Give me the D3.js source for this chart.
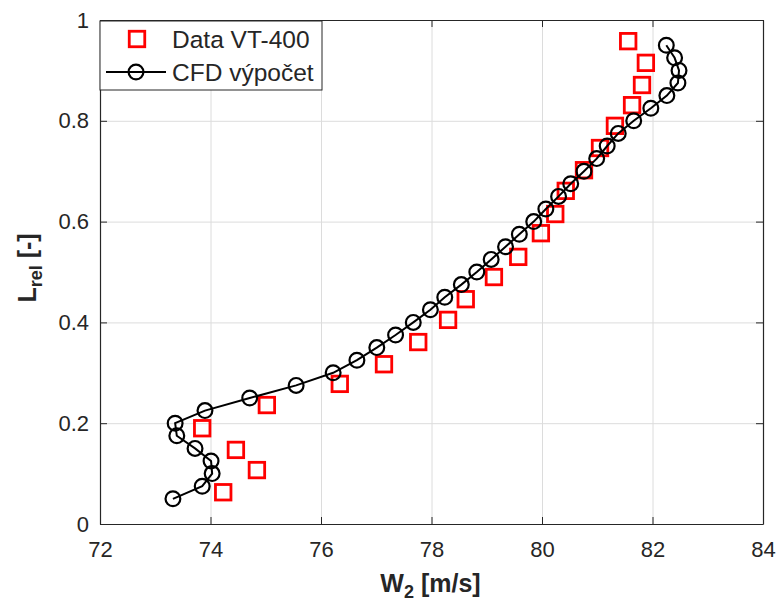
<!DOCTYPE html>
<html>
<head>
<meta charset="utf-8">
<script src="https://cdn.jsdelivr.net/npm/d3@7"></script>
<style>
  html, body { margin: 0; padding: 0; background: #fff; }
  svg { display: block; font-family: "Liberation Sans", Arial, Helvetica, sans-serif; }
</style>
</head>
<body>
<svg id="chart" width="780" height="608"></svg>
<script>
// Measured velocity profile (VT-400) and CFD result
const dataL = [0.063, 0.107, 0.147, 0.190, 0.236, 0.278, 0.317, 0.361, 0.405, 0.446, 0.490,
               0.530, 0.577, 0.615, 0.661, 0.702, 0.746, 0.790, 0.831, 0.871, 0.915, 0.958];
const dataW = [74.23, 74.84, 74.46, 73.85, 75.02, 76.34, 77.14, 77.76, 78.30, 78.62, 79.13,
               79.57, 79.98, 80.24, 80.43, 80.76, 81.05, 81.32, 81.63, 81.81, 81.88, 81.56];

const cfdL = [0.050, 0.075, 0.100, 0.125, 0.150, 0.175, 0.200, 0.225, 0.250, 0.275, 0.300,
              0.325, 0.350, 0.375, 0.400, 0.425, 0.450, 0.475, 0.500, 0.525, 0.550, 0.575,
              0.600, 0.625, 0.650, 0.675, 0.700, 0.725, 0.750, 0.775, 0.800, 0.825, 0.850,
              0.875, 0.900, 0.925, 0.950];
const cfdW = [73.32, 73.85, 74.03, 74.01, 73.72, 73.39, 73.36, 73.90, 74.71, 75.55, 76.22,
              76.65, 77.01, 77.35, 77.67, 77.98, 78.24, 78.54, 78.82, 79.08, 79.34, 79.59,
              79.85, 80.07, 80.30, 80.52, 80.76, 80.99, 81.18, 81.38, 81.66, 81.97, 82.26,
              82.46, 82.48, 82.40, 82.25];

const xTicks = [72, 74, 76, 78, 80, 82, 84];
const yTicks = [0, 0.2, 0.4, 0.6, 0.8, 1];
const legendLabels = ["Data VT-400", "CFD výpočet"];

const svg = d3.select("#chart");
const margin = { left: 100, top: 20, right: 17, bottom: 84 };
const W = 780 - margin.left - margin.right;
const H = 608 - margin.top - margin.bottom;
const axisColor = "#262626";

const x = d3.scaleLinear().domain([72, 84]).range([0, W]);
const y = d3.scaleLinear().domain([0, 1]).range([H, 0]);

const g = svg.append("g").attr("transform", `translate(${margin.left},${margin.top})`);

// grid
const gridX = g.append("g").attr("transform", `translate(0,${H})`)
  .call(d3.axisBottom(x).tickValues(xTicks).tickSize(-H).tickFormat(""));
const gridY = g.append("g")
  .call(d3.axisLeft(y).tickValues(yTicks).tickSize(-W).tickFormat(""));
[gridX, gridY].forEach(s => {
  s.select(".domain").remove();
  s.selectAll("line").attr("stroke", "#dcdcdc").attr("stroke-width", 1);
});

// axes with inward ticks on all four sides
const fmtY = d => d === 0 || d === 1 ? String(d) : d3.format(".1f")(d);
const axB = g.append("g").attr("transform", `translate(0,${H})`)
  .call(d3.axisBottom(x).tickValues(xTicks).tickSize(-7).tickPadding(17).tickSizeOuter(0));
const axL = g.append("g")
  .call(d3.axisLeft(y).tickValues(yTicks).tickSize(-7).tickPadding(11).tickSizeOuter(0).tickFormat(fmtY));
const axT = g.append("g")
  .call(d3.axisTop(x).tickValues(xTicks).tickSize(-7).tickSizeOuter(0).tickFormat(""));
const axR = g.append("g").attr("transform", `translate(${W},0)`)
  .call(d3.axisRight(y).tickValues(yTicks).tickSize(-7).tickSizeOuter(0).tickFormat(""));
[axB, axL, axT, axR].forEach(s => {
  s.select(".domain").attr("stroke", axisColor).attr("stroke-width", 1.2);
  s.selectAll(".tick line").attr("stroke", axisColor).attr("stroke-width", 1);
  s.selectAll("text").attr("fill", axisColor).attr("font-size", 22)
    .attr("font-family", "'Liberation Sans', Arial, sans-serif");
});

// measured data: red open squares
const sq = 15.5;
g.append("g").selectAll("rect").data(dataW.map((w, i) => [w, dataL[i]])).join("rect")
  .attr("x", d => x(d[0]) - sq / 2).attr("y", d => y(d[1]) - sq / 2)
  .attr("width", sq).attr("height", sq)
  .attr("fill", "none").attr("stroke", "#ff0000").attr("stroke-width", 2.8);

// CFD: black line with open circles
const cfd = cfdW.map((w, i) => [w, cfdL[i]]);
g.append("path").datum(cfd)
  .attr("d", d3.line().x(d => x(d[0])).y(d => y(d[1])))
  .attr("fill", "none").attr("stroke", "#000").attr("stroke-width", 2);
g.append("g").selectAll("circle").data(cfd).join("circle")
  .attr("cx", d => x(d[0])).attr("cy", d => y(d[1])).attr("r", 7.4)
  .attr("fill", "none").attr("stroke", "#000").attr("stroke-width", 2.2);

// legend
const lg = svg.append("g").attr("transform", "translate(100,21)");
lg.append("rect").attr("x", 0).attr("y", 0).attr("width", 222).attr("height", 69)
  .attr("fill", "#fff").attr("stroke", axisColor).attr("stroke-width", 1);
lg.append("rect").attr("x", 37 - sq / 2).attr("y", 18 - sq / 2).attr("width", sq).attr("height", sq)
  .attr("fill", "none").attr("stroke", "#ff0000").attr("stroke-width", 2.8);
lg.append("line").attr("x1", 6).attr("x2", 66).attr("y1", 51).attr("y2", 51)
  .attr("stroke", "#000").attr("stroke-width", 2);
lg.append("circle").attr("cx", 36).attr("cy", 51).attr("r", 7.4)
  .attr("fill", "none").attr("stroke", "#000").attr("stroke-width", 2.2);
lg.selectAll("text.lab").data(legendLabels).join("text").attr("class", "lab")
  .attr("x", 72).attr("y", (d, i) => 27 + i * 33)
  .attr("font-size", 24.5).attr("fill", axisColor).text(d => d);

// axis titles
const xt = svg.append("text").attr("x", margin.left + W / 2 - 1).attr("y", 592)
  .attr("text-anchor", "middle").attr("font-size", 25).attr("font-weight", "bold").attr("fill", axisColor);
xt.append("tspan").text("W");
xt.append("tspan").attr("font-size", 18).attr("dy", 6).text("2");
xt.append("tspan").attr("dy", -6).text(" [m/s]");

const yt = svg.append("text").attr("transform", `translate(36,${margin.top + H / 2 - 4}) rotate(-90)`)
  .attr("text-anchor", "middle").attr("font-size", 25).attr("font-weight", "bold").attr("fill", axisColor);
yt.append("tspan").text("L");
yt.append("tspan").attr("font-size", 18).attr("dy", 6).text("rel");
yt.append("tspan").attr("dy", -6).text(" [-]");
</script>
</body>
</html>
